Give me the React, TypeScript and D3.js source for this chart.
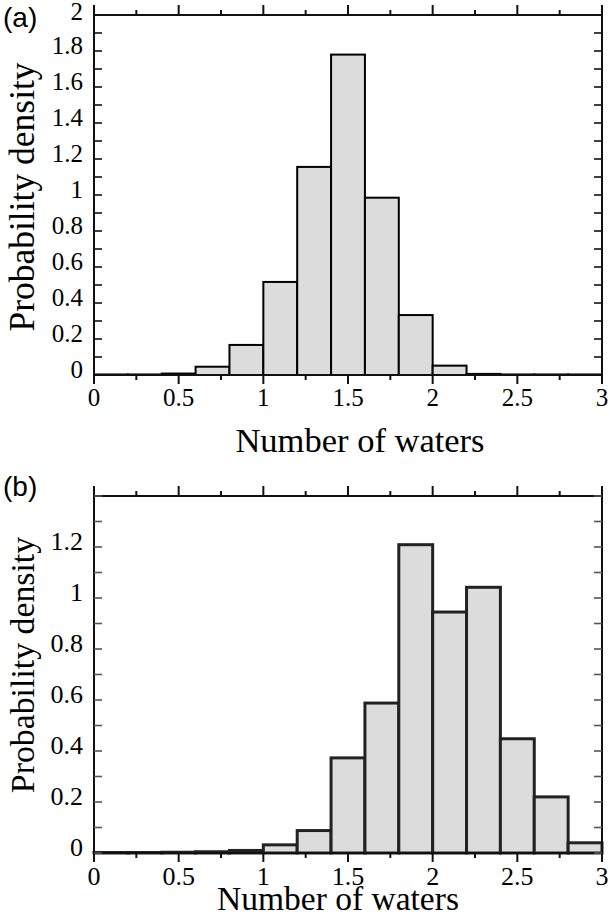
import React from 'react';
import * as d3 from 'd3';

// histogram bins (left edges, width 0.2)
const binStarts = [0, 0.2, 0.4, 0.6, 0.8, 1.0, 1.2, 1.4, 1.6, 1.8, 2.0, 2.2, 2.4, 2.6, 2.8];
const binWidth = 0.2;

const densityA = [0.003, 0.003, 0.008, 0.046, 0.167, 0.517, 1.156, 1.78, 0.985, 0.333, 0.052, 0.006, 0.003, 0.003, 0.003];
const densityB = [0.002, 0.002, 0.003, 0.005, 0.01, 0.032, 0.088, 0.373, 0.588, 1.209, 0.945, 1.042, 0.448, 0.22, 0.04];

const xMajor = [0, 0.5, 1, 1.5, 2, 2.5, 3];
const xMinor = [0.25, 0.75, 1.25, 1.75, 2.25, 2.75];

const yTicksA = [0, 0.1, 0.2, 0.3, 0.4, 0.5, 0.6, 0.7, 0.8, 0.9, 1, 1.1, 1.2, 1.3, 1.4, 1.5, 1.6, 1.7, 1.8, 1.9, 2];
const yLabelsA = [0, 0.2, 0.4, 0.6, 0.8, 1, 1.2, 1.4, 1.6, 1.8, 2];
const yTicksB = [0, 0.1, 0.2, 0.3, 0.4, 0.5, 0.6, 0.7, 0.8, 0.9, 1, 1.1, 1.2, 1.3, 1.4];
const yLabelsB = [0, 0.2, 0.4, 0.6, 0.8, 1, 1.2];

const SERIF = '"Liberation Serif", "Times New Roman", serif';
const SANS = '"Liberation Sans", Arial, sans-serif';

type PanelProps = {
  values: number[];
  yMax: number;
  yTicks: number[];
  yLabels: number[];
  top: number;
  bottom: number;
  tag: string;
  tagY: number;
  barStroke: string;
  barWidth: number;
  tickColor: string;
  tickFont: number;
  xLabelY: number;
  xTitleX: number;
  xTitleY: number;
  xTitleFont: number;
  yTitleY: number;
  yTitleFont: number;
};

const left = 94;
const right = 602;
const fmt = d3.format('~g');

function Panel(p: PanelProps) {
  const x = d3.scaleLinear().domain([0, 3]).range([left, right]);
  const y = d3.scaleLinear().domain([0, p.yMax]).range([p.bottom, p.top]);

  return (
    <g>
      {/* bars */}
      {p.values.map((v, i) => (
        <rect
          key={i}
          x={x(binStarts[i])}
          y={y(v)}
          width={x(binStarts[i] + binWidth) - x(binStarts[i])}
          height={y(0) - y(v)}
          fill="#dcdcdc"
          stroke={p.barStroke}
          strokeWidth={p.barWidth}
        />
      ))}

      {/* frame */}
      <rect x={left} y={p.top} width={right - left} height={p.bottom - p.top}
        fill="none" stroke="#111" strokeWidth={2} />

      {/* x ticks, outward top and bottom */}
      {xMajor.map(t => (
        <g key={'M' + t}>
          <line x1={x(t)} x2={x(t)} y1={p.top} y2={p.top - 10} stroke="#111" strokeWidth={2} />
          <line x1={x(t)} x2={x(t)} y1={p.bottom} y2={p.bottom + 9} stroke="#111" strokeWidth={2} />
          <text x={x(t)} y={p.xLabelY} textAnchor="middle" fontFamily={SERIF} fontSize={p.tickFont}>{fmt(t)}</text>
        </g>
      ))}
      {xMinor.map(t => (
        <g key={'m' + t}>
          <line x1={x(t)} x2={x(t)} y1={p.top} y2={p.top - 5} stroke="#111" strokeWidth={2} />
          <line x1={x(t)} x2={x(t)} y1={p.bottom} y2={p.bottom + 5} stroke="#111" strokeWidth={2} />
        </g>
      ))}

      {/* y ticks, inward left and right */}
      {p.yTicks.map(t => (
        <g key={'y' + t}>
          <line x1={left} x2={left + 8} y1={y(t)} y2={y(t)} stroke={p.tickColor} strokeWidth={1.6} />
          <line x1={right} x2={right - 8} y1={y(t)} y2={y(t)} stroke={p.tickColor} strokeWidth={1.6} />
        </g>
      ))}
      {p.yLabels.map(t => (
        <text key={'yl' + t} x={83} y={Math.max(y(t) + 3, 20)} textAnchor="end" fontFamily={SERIF} fontSize={p.tickFont}>{fmt(t)}</text>
      ))}

      {/* titles */}
      <text x={p.xTitleX} y={p.xTitleY} textAnchor="middle" fontFamily={SERIF} fontSize={p.xTitleFont}>Number of waters</text>
      <text transform={`translate(34,${p.yTitleY}) rotate(-90)`} textAnchor="middle" fontFamily={SERIF} fontSize={p.yTitleFont}>Probability density</text>
      <text x={3} y={p.tagY} fontFamily={SANS} fontSize={28}>{p.tag}</text>
    </g>
  );
}

export default function App() {
  return (
    <svg width={610} height={916} style={{ position: 'absolute', left: 0, top: 0, background: '#fff' }}>
      <rect width={610} height={916} fill="#fff" />
      <Panel
        values={densityA} yMax={2} yTicks={yTicksA} yLabels={yLabelsA}
        top={15} bottom={375} tag="(a)" tagY={27}
        barStroke="#000" barWidth={2} tickColor="#111" tickFont={25}
        xLabelY={406} xTitleX={360} xTitleY={452} xTitleFont={34.5} yTitleY={197} yTitleFont={35.5}
      />
      <Panel
        values={densityB} yMax={1.4} yTicks={yTicksB} yLabels={yLabelsB}
        top={496} bottom={853} tag="(b)" tagY={496}
        barStroke="#222" barWidth={3} tickColor="#555" tickFont={26}
        xLabelY={885} xTitleX={338} xTitleY={910} xTitleFont={33.5} yTitleY={665} yTitleFont={33.8}
      />
    </svg>
  );
}
